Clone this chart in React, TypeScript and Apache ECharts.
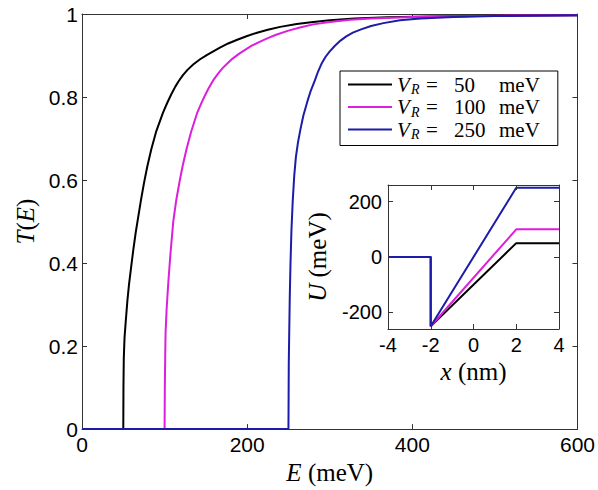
import React, { useEffect, useRef } from "react";
import * as echarts from "echarts";

// ---- Main plot data: transmission T(E) ----
const seriesNames = ["V_R = 50 meV", "V_R = 100 meV", "V_R = 250 meV"];
const legendNumbers = ["50", "100", "250"];
const seriesColors = ["#000000", "#dd1edd", "#1c1ca8"];

const tBlack: [number, number][] = [
  [0, 0], [50, 0], [50.2, 0.1], [50.6, 0.17], [51.5, 0.22], [53, 0.26], [55, 0.31],
  [57, 0.35], [59.5, 0.39], [62, 0.43], [65, 0.473], [68, 0.51], [71.5, 0.553],
  [75, 0.592], [79, 0.632], [84, 0.675], [90, 0.718], [98, 0.762], [103, 0.785],
  [108, 0.806], [113, 0.825], [117, 0.838], [122, 0.852], [128, 0.866], [135, 0.879],
  [143, 0.891], [151, 0.901], [159, 0.91], [167, 0.919], [177, 0.929], [188, 0.938],
  [200, 0.947], [212, 0.955], [225, 0.962], [240, 0.969], [260, 0.976], [280, 0.981],
  [300, 0.985], [330, 0.989], [370, 0.992], [420, 0.994], [500, 0.996], [600, 0.997],
];
const tMagenta: [number, number][] = [
  [0, 0], [100, 0], [100.3, 0.1], [100.8, 0.18], [101.2, 0.232], [102.5, 0.29],
  [104.4, 0.35], [107, 0.42], [110.5, 0.5], [114, 0.55], [118.5, 0.6],
  [122, 0.635], [126.6, 0.675], [132, 0.715], [139.5, 0.762], [144, 0.783],
  [148, 0.8], [153, 0.82], [158.8, 0.84], [165, 0.857], [170, 0.869], [175, 0.879],
  [182, 0.892], [190, 0.904], [197, 0.913], [205, 0.923], [215, 0.933], [225, 0.942],
  [235, 0.95], [250, 0.96], [265, 0.968], [280, 0.975], [300, 0.981], [325, 0.986],
  [350, 0.989], [400, 0.993], [500, 0.996], [600, 0.997],
];
const tBlue: [number, number][] = [
  [0, 0], [250, 0], [250.2, 0.08], [250.4, 0.16], [251, 0.24], [251.6, 0.319],
  [252.5, 0.4], [253.6, 0.478], [255.2, 0.55], [257, 0.61], [259, 0.655],
  [261.5, 0.69], [264.5, 0.722], [268, 0.755], [273, 0.79], [277, 0.815],
  [282, 0.84], [286, 0.862], [290, 0.88], [295, 0.897], [300, 0.91], [306, 0.923],
  [313, 0.936], [320, 0.946], [328, 0.955], [338, 0.963], [350, 0.971], [365, 0.978],
  [385, 0.985], [410, 0.989], [450, 0.993], [500, 0.995], [600, 0.997],
];

// ---- Inset data: potential profile U(x) ----
const uBlack: [number, number][] = [[-4, 0], [-2, 0], [-2, -250], [2, 50], [4, 50]];
const uMagenta: [number, number][] = [[-4, 0], [-2, 0], [-2, -250], [2, 100], [4, 100]];
const uBlue: [number, number][] = [[-4, 0], [-2, 0], [-2, -250], [2, 250], [4, 250]];

// ---- Ticks ----
const mainXTicks = { min: 0, max: 600, interval: 200 };
const mainYTicks = { min: 0, max: 1, interval: 0.2 };
const insetXTicks = { min: -4, max: 4, interval: 2 };
const insetYRange = { min: -260, max: 260 };
const insetYTickValues = [-200, 0, 200];

const SANS = "Liberation Sans";
const SERIF = "Liberation Serif";
const AXIS_COLOR = "#333";

export default function App() {
  const ref = useRef<HTMLDivElement>(null);

  useEffect(() => {
    if (!ref.current) return;
    const chart = echarts.init(ref.current, undefined, { renderer: "svg" });

    const axisLine = { show: true, onZero: false, lineStyle: { color: AXIS_COLOR, width: 1 } };
    const tick = { show: true, inside: true, length: 5, lineStyle: { color: AXIS_COLOR } };
    const nameStyle = (size: number) => ({
      fontFamily: SERIF,
      fontSize: size,
      color: "#000",
      rich: { i: { fontFamily: SERIF, fontStyle: "italic", fontSize: size, color: "#000" } },
    });

    const mainSeries = [tBlack, tMagenta, tBlue].map((d, i) => ({
      name: seriesNames[i],
      type: "line",
      xAxisIndex: 0,
      yAxisIndex: 0,
      data: d,
      symbol: "none",
      showSymbol: false,
      lineStyle: { color: seriesColors[i], width: 2, join: "round" },
      itemStyle: { color: seriesColors[i] },
      z: 3 + i,
    }));
    const insetSeries = [uBlack, uMagenta, uBlue].map((d, i) => ({
      name: seriesNames[i] + " (U)",
      type: "line",
      xAxisIndex: 2,
      yAxisIndex: 2,
      data: d,
      symbol: "none",
      showSymbol: false,
      lineStyle: { color: seriesColors[i], width: 2 },
      itemStyle: { color: seriesColors[i] },
      z: 10 + i,
    }));

    const option: any = {
      animation: false,
      backgroundColor: "#fff",
      grid: [
        { left: 82, right: 20, top: 14, bottom: 56 },
        {
          left: 388, top: 185, width: 171, height: 144,
          show: true, backgroundColor: "#fff", borderWidth: 0, z: 5,
        },
      ],
      legend: {
        data: seriesNames.map((n) => ({ name: n, icon: "rect" })),
        orient: "vertical",
        left: 340,
        top: 71,
        padding: [3, 18, 4, 8],
        itemGap: 0,
        itemWidth: 44,
        itemHeight: 2,
        borderColor: "#000",
        borderWidth: 1,
        backgroundColor: "#fff",
        formatter: (name: string) => {
          const i = seriesNames.indexOf(name);
          return `{v|V}{s|R}{e|=}{n|${legendNumbers[i]}}{u|meV}`;
        },
        textStyle: {
          fontFamily: SERIF,
          fontSize: 21,
          color: "#000",
          rich: {
            v: { fontFamily: SERIF, fontStyle: "italic", fontSize: 21, lineHeight: 24, width: 14, color: "#000" },
            s: { fontFamily: SERIF, fontStyle: "italic", fontSize: 14, lineHeight: 12, verticalAlign: "bottom", width: 15, color: "#000" },
            e: { fontFamily: SERIF, fontSize: 21, lineHeight: 24, width: 28, color: "#000" },
            n: { fontFamily: SERIF, fontSize: 21, lineHeight: 24, width: 45, color: "#000" },
            u: { fontFamily: SERIF, fontSize: 21, lineHeight: 24, color: "#000" },
          },
        },
      },
      xAxis: [
        {
          gridIndex: 0, type: "value", position: "bottom",
          ...mainXTicks,
          axisLine, axisTick: tick, splitLine: { show: false },
          axisLabel: { fontFamily: SANS, fontSize: 21, color: "#000", margin: 5 },
          name: "{i|E} (meV)", nameLocation: "middle", nameGap: 26,
          nameTextStyle: nameStyle(25),
        },
        {
          gridIndex: 0, type: "value", position: "top",
          ...mainXTicks,
          axisLine, axisTick: tick, splitLine: { show: false },
          axisLabel: { show: false },
        },
        {
          gridIndex: 1, type: "value", position: "bottom",
          ...insetXTicks,
          axisLine, axisTick: tick, splitLine: { show: false },
          axisLabel: { fontFamily: SANS, fontSize: 20, color: "#000", margin: 6 },
          name: "{i|x} (nm)", nameLocation: "middle", nameGap: 30,
          nameTextStyle: nameStyle(25),
          z: 20,
        },
        {
          gridIndex: 1, type: "value", position: "top",
          ...insetXTicks,
          axisLine, axisTick: tick, splitLine: { show: false },
          axisLabel: { show: false },
          z: 20,
        },
      ],
      yAxis: [
        {
          gridIndex: 0, type: "value", position: "left",
          ...mainYTicks,
          axisLine, axisTick: tick, splitLine: { show: false },
          axisLabel: {
            fontFamily: SANS, fontSize: 21, color: "#000", margin: 4,
            formatter: (v: number) => String(parseFloat(v.toFixed(1))),
          },
          name: "{i|T}({i|E})", nameLocation: "middle", nameGap: 44,
          nameTextStyle: nameStyle(25),
        },
        {
          gridIndex: 0, type: "value", position: "right",
          ...mainYTicks,
          axisLine, axisTick: tick, splitLine: { show: false },
          axisLabel: { show: false },
        },
        {
          gridIndex: 1, type: "value", position: "left",
          ...insetYRange,
          axisLine,
          axisTick: { ...tick, customValues: insetYTickValues },
          splitLine: { show: false },
          axisLabel: {
            fontFamily: SANS, fontSize: 20, color: "#000", margin: 6,
            customValues: insetYTickValues,
          },
          name: "{i|U} (meV)", nameLocation: "middle", nameGap: 58,
          nameTextStyle: nameStyle(25),
          z: 20,
        },
        {
          gridIndex: 1, type: "value", position: "right",
          ...insetYRange,
          axisLine,
          axisTick: { ...tick, customValues: insetYTickValues },
          splitLine: { show: false },
          axisLabel: { show: false },
          z: 20,
        },
      ],
      series: [...mainSeries, ...insetSeries],
    };

    chart.setOption(option);
    return () => chart.dispose();
  }, []);

  return (
    <div
      ref={ref}
      style={{ position: "fixed", left: 0, top: 0, width: 598, height: 490 }}
    />
  );
}
